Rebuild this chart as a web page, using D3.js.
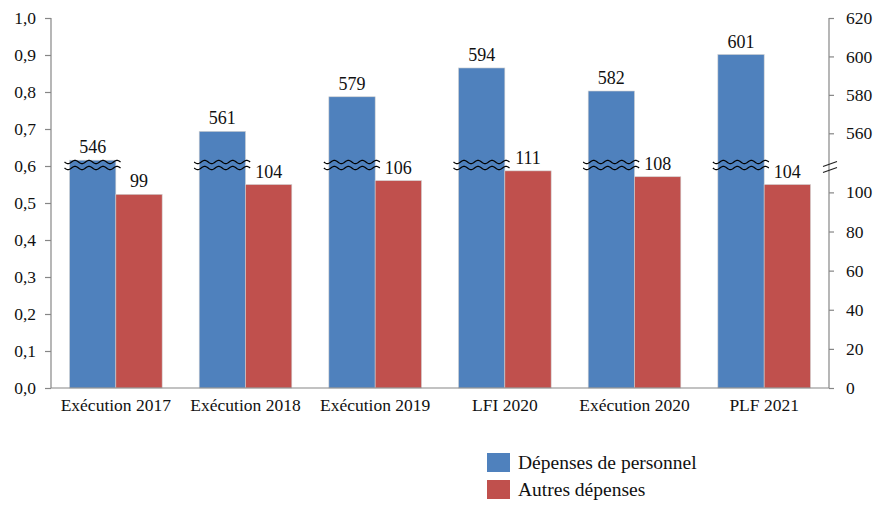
<!DOCTYPE html>
<html>
<head>
<meta charset="utf-8">
<script src="https://cdn.jsdelivr.net/npm/d3@7"></script>
<style>
  body { margin: 0; background: #fff; }
  svg { display: block; }
  svg text { font-family: "Liberation Serif", "Times New Roman", serif !important; }
</style>
</head>
<body>
<div id="chart"></div>
<script>
// Data
const categories = ["Exécution 2017", "Exécution 2018", "Exécution 2019", "LFI 2020", "Exécution 2020", "PLF 2021"];
const personnel = [546, 561, 579, 594, 582, 601];
const autres = [99, 104, 106, 111, 108, 104];
const seriesNames = ["Dépenses de personnel", "Autres dépenses"];
const leftTicks = [0, 0.1, 0.2, 0.3, 0.4, 0.5, 0.6, 0.7, 0.8, 0.9, 1.0];
const rightTicksLow = [0, 20, 40, 60, 80, 100];
const rightTicksHigh = [560, 580, 600, 620];

const W = 879, H = 505;
const plot = { left: 51, right: 829, top: 18, bottom: 388 };
const breakY = 165;
const colors = ["#4F81BD", "#C0504D"];

const svg = d3.select("#chart").append("svg")
    .attr("width", W)
    .attr("height", H);

// scales
const x0 = d3.scaleBand()
    .domain(categories)
    .range([plot.left, plot.right])
    .padding(0);

const x1 = d3.scaleBand()
    .domain(seriesNames)
    .range([0, x0.bandwidth()])
    .paddingInner(0)
    .paddingOuter(0.4);

const yLeft = d3.scaleLinear()
    .domain([0, 1])
    .range([plot.bottom, plot.top]);

// right axis is broken: lower part 0..~114, upper part ~543..620
const yRight = d3.scaleLinear()
    .domain([0, 114, 543.5, 620])
    .range([plot.bottom, breakY, breakY, plot.top]);

const frLocale = d3.formatLocale({ decimal: ",", thousands: " ", grouping: [3], currency: ["", " €"] });

// bars
const rows = categories.map((c, i) => ({ cat: c, values: [personnel[i], autres[i]] }));

const groups = svg.selectAll("g.grp")
    .data(rows)
    .enter()
    .append("g")
    .attr("class", "grp")
    .attr("transform", d => `translate(${x0(d.cat)},0)`);

groups.selectAll("rect")
    .data(d => d.values.map((v, k) => ({ name: seriesNames[k], v: v, k: k })))
    .enter()
    .append("rect")
    .attr("x", d => x1(d.name))
    .attr("y", d => yRight(d.v))
    .attr("width", x1.bandwidth())
    .attr("height", d => plot.bottom - yRight(d.v))
    .attr("fill", d => colors[d.k])
    .attr("stroke", "#d0d0d0")
    .attr("stroke-width", 0.6);

// value labels
groups.selectAll("text.val")
    .data(d => d.values.map((v, k) => ({ name: seriesNames[k], v: v })))
    .enter()
    .append("text")
    .attr("class", "val")
    .attr("x", d => x1(d.name) + x1.bandwidth() / 2)
    .attr("y", d => yRight(d.v) - 7)
    .attr("text-anchor", "middle")
    .style("font-size", "18px")
    .style("fill", "#111")
    .text(d => d.v);

// wavy break marks on the blue bars
const wave = (xa, xb, yc) => {
    const pts = d3.range(xa, xb + 0.5, 1).map(x => [x, yc + 1.6 * Math.sin((x - xa) / 14 * 2 * Math.PI)]);
    return d3.line()(pts);
};
groups.each(function () {
    const g = d3.select(this);
    const xa = x1(seriesNames[0]) - 5;
    const xb = x1(seriesNames[0]) + x1.bandwidth() + 5;
    g.append("path").attr("d", wave(xa, xb, breakY - 3))
        .attr("fill", "none").attr("stroke", "#000").attr("stroke-width", 1.3);
    g.append("path").attr("d", wave(xa, xb, breakY + 3))
        .attr("fill", "none").attr("stroke", "#000").attr("stroke-width", 1.3);
});

// left axis
const leftAxis = svg.append("g")
    .attr("transform", `translate(${plot.left},0)`)
    .call(d3.axisLeft(yLeft).tickValues(leftTicks).tickSize(6).tickPadding(9)
        .tickFormat(frLocale.format(".1f")));

// right axis
const rightAxis = svg.append("g")
    .attr("transform", `translate(${plot.right},0)`)
    .call(d3.axisRight(yRight).tickValues(rightTicksLow.concat(rightTicksHigh)).tickSize(5).tickPadding(12));

[leftAxis, rightAxis].forEach(a => {
    a.attr("font-family", null);
    a.select(".domain").attr("stroke", "#868686").attr("stroke-width", 1.2);
    a.selectAll(".tick line").attr("stroke", "#868686").attr("stroke-width", 1.2);
    a.selectAll(".tick text").style("font-size", "17.5px").attr("fill", "#111");
});
rightAxis.select(".domain").attr("d", `M0,${plot.top}V${plot.bottom}`);
leftAxis.select(".domain").attr("d", `M0,${plot.top}V${plot.bottom}`);

// break slashes on right axis
[breakY - 1, breakY + 5].forEach(yy => {
    svg.append("line")
        .attr("x1", plot.right - 6).attr("y1", yy + 2.5)
        .attr("x2", plot.right + 8).attr("y2", yy - 2.5)
        .attr("stroke", "#222").attr("stroke-width", 1.3);
});

// category axis
svg.append("line")
    .attr("x1", plot.left).attr("x2", plot.right)
    .attr("y1", plot.bottom).attr("y2", plot.bottom)
    .attr("stroke", "#868686").attr("stroke-width", 1.2);

svg.selectAll("text.cat")
    .data(categories)
    .enter()
    .append("text")
    .attr("class", "cat")
    .attr("x", d => x0(d) + x0.bandwidth() / 2)
    .attr("y", 411)
    .attr("text-anchor", "middle")
    .style("font-size", "17.5px")
    .style("fill", "#111")
    .text(d => d);

// legend
const legend = svg.append("g").attr("transform", "translate(487,453)");
seriesNames.forEach((name, i) => {
    legend.append("rect")
        .attr("x", 0).attr("y", i * 27)
        .attr("width", 23).attr("height", 19)
        .attr("fill", colors[i]);
    legend.append("text")
        .attr("x", 31).attr("y", i * 27 + 16)
        .style("font-size", "19.5px")
        .style("fill", "#111")
        .text(name);
});
</script>
</body>
</html>
